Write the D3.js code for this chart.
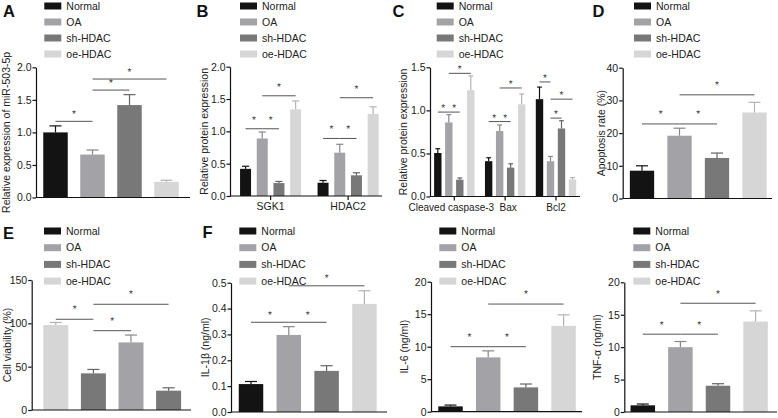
<!DOCTYPE html>
<html><head><meta charset="utf-8">
<script src="https://cdn.jsdelivr.net/npm/d3@7"></script>
<style>body{margin:0;background:#fff}svg{display:block}text{font-family:Arial,"Liberation Sans",sans-serif}</style>
</head><body><svg id="c" width="778" height="418"></svg>
<script>
// ---------------- data ----------------
const groups = ["Normal", "OA", "sh-HDAC", "oe-HDAC"];

const aMeans = [1.00, 0.66, 1.42, 0.24];
const aErrs  = [0.10, 0.07, 0.16, 0.025];
const aSig   = [[0, 1, 1.17], [1, 2, 1.65], [1, 3, 1.82]];
const aTicks = [0, 0.5, 1.0, 1.5, 2.0];

const bCats  = ["SGK1", "HDAC2"];
const bMeans = [[0.42, 0.89, 0.20, 1.34], [0.205, 0.67, 0.32, 1.27]];
const bErrs  = [[0.04, 0.10, 0.025, 0.13], [0.035, 0.13, 0.04, 0.11]];
const bSig   = [[0, 0, 1, 1.04], [0, 1, 2, 1.04], [0, 1, 3, 1.55], [1, 0, 1, 0.89], [1, 1, 2, 0.89], [1, 1, 3, 1.52]];
const bTicks = [0, 0.5, 1.0, 1.5, 2.0];

const cCats  = ["Cleaved caspase-3", "Bax", "Bcl2"];
const cMeans = [[0.505, 0.86, 0.195, 1.235], [0.41, 0.76, 0.335, 1.07], [1.13, 0.41, 0.79, 0.198]];
const cErrs  = [[0.05, 0.09, 0.02, 0.165], [0.04, 0.07, 0.045, 0.12], [0.14, 0.055, 0.09, 0.022]];
const cSig   = [[0, 0, 1, 0.98], [0, 1, 2, 0.98], [0, 1, 3, 1.43], [1, 0, 1, 0.87], [1, 1, 2, 0.87], [1, 1, 3, 1.26], [2, 0, 1, 1.33], [2, 1, 3, 1.13], [2, 1, 2, 0.91]];
const cTicks = [0, 0.5, 1.0, 1.5];

const dMeans = [8.5, 19.2, 12.4, 26.3];
const dErrs  = [1.5, 2.3, 1.5, 3.1];
const dSig   = [[0, 1, 22.8], [1, 2, 22.8], [1, 3, 31.7]];
const dTicks = [0, 10, 20, 30, 40];

const eMeans = [98, 42.3, 78, 22.3];
const eErrs  = [3, 4.5, 8.5, 3.3];
const eSig   = [[0, 1, 104.7], [1, 2, 91.5], [1, 3, 122]];
const eTicks = [0, 50, 100, 150];

const il1Means = [0.108, 0.298, 0.159, 0.418];
const il1Errs  = [0.010, 0.032, 0.020, 0.051];
const il1Sig   = [[0, 1, 0.347], [1, 2, 0.347], [1, 3, 0.488]];
const il1Ticks = [0, 0.1, 0.2, 0.3, 0.4, 0.5];

const il6Means = [0.82, 8.36, 3.74, 13.2];
const il6Errs  = [0.2, 1.0, 0.52, 1.7];
const il6Sig   = [[0, 1, 10.0], [1, 2, 10.0], [1, 3, 16.56]];
const il6Ticks = [0, 5, 10, 15, 20];

const tnfMeans = [1.03, 10.0, 4.05, 13.95];
const tnfErrs  = [0.2, 0.87, 0.31, 1.65];
const tnfSig   = [[0, 1, 12.0], [1, 2, 12.0], [1, 3, 16.77]];
const tnfTicks = [0, 5, 10, 15, 20];

// ---------------- styles ----------------
const color = d3.scaleOrdinal().domain(groups).range(["#131313", "#a3a2a7", "#787878", "#d6d6d6"]);
const eBarColorKeys = ["oe-HDAC", "sh-HDAC", "OA", "sh-HDAC"];
const FS = 10.5;
const svg = d3.select("#c");

function errColor(c) { return c === "#131313" ? c : d3.color(c).darker(0.5).formatHex(); }

function panelLabel(t, x, y) {
  svg.append("text").attr("x", x).attr("y", y).attr("font-size", 16.5).attr("font-weight", "bold").attr("fill", "#111").text(t);
}
function legend(x, y0, dy) {
  const g = svg.append("g");
  groups.forEach((k, i) => {
    const y = y0 + i * dy;
    g.append("rect").attr("x", x).attr("y", y - 3.5).attr("width", 17).attr("height", 7).attr("fill", color(k));
    g.append("text").attr("x", x + 22).attr("y", y).attr("dy", "0.35em").attr("font-size", FS).attr("fill", "#222").text(k);
  });
}
function yAxis(cfg, y, ticks, fmt, title) {
  const g = svg.append("g").attr("transform", `translate(${cfg.x0},0)`)
    .call(d3.axisLeft(y).tickValues(ticks).tickFormat(fmt).tickSize(3.5).tickSizeOuter(0));
  g.selectAll("text").attr("font-size", FS).attr("fill", "#222").style("font-family", "Arial,'Liberation Sans',sans-serif").attr("x", -4.5);
  g.selectAll("path,line").attr("stroke", "#111").attr("stroke-width", 1.2);
  const [yb, yt] = y.range();
  svg.append("text").attr("transform", `translate(${cfg.titleX},${(yb + yt) / 2}) rotate(-90)`)
    .attr("text-anchor", "middle").attr("dy", "0.35em").attr("font-size", FS).attr("fill", "#222").text(title);
  svg.append("line").attr("x1", cfg.x0).attr("x2", cfg.xEnd).attr("y1", yb).attr("y2", yb).attr("stroke", "#111").attr("stroke-width", 1.2);
}
function bar(g, cx, bw, y, m, e, c) {
  g.append("rect").attr("x", cx - bw / 2).attr("y", y(m)).attr("width", bw).attr("height", y(0) - y(m)).attr("fill", c);
  const ec = errColor(c), cap = Math.min(12, bw * 0.65);
  g.append("line").attr("x1", cx).attr("x2", cx).attr("y1", y(m)).attr("y2", y(m + e)).attr("stroke", ec).attr("stroke-width", 1.2);
  g.append("line").attr("x1", cx - cap / 2).attr("x2", cx + cap / 2).attr("y1", y(m + e)).attr("y2", y(m + e)).attr("stroke", ec).attr("stroke-width", 1.2);
}
function sigMark(g, x1, x2, yy, off) {
  g.append("line").attr("x1", x1).attr("x2", x2).attr("y1", yy).attr("y2", yy).attr("stroke", "#555").attr("stroke-width", 1);
  g.append("text").attr("x", (x1 + x2) / 2).attr("y", yy - off).attr("text-anchor", "middle").attr("font-size", 10)
    .attr("fill", "#333").attr("opacity", 0.99).attr("text-rendering", "geometricPrecision").text("*");
}
function bandFor(c0, step, bw, n, dom) {
  const p = 1 - bw / step;
  return d3.scaleBand().domain(dom).range([c0 - step / 2, c0 - step / 2 + n * step]).paddingInner(p).paddingOuter(p / 2);
}
function simplePanel(cfg, means, errs, sig, ticks, fmt, title, colorKeys) {
  const y = d3.scaleLinear().domain([0, ticks[ticks.length - 1]]).range(cfg.y);
  const x = bandFor(cfg.c0, cfg.step, cfg.bw, groups.length, groups);
  const cx = k => x(k) + x.bandwidth() / 2;
  const g = svg.append("g");
  groups.forEach((k, i) => bar(g, cx(k), x.bandwidth(), y, means[i], errs[i], color(colorKeys ? colorKeys[i] : k)));
  yAxis(cfg, y, ticks, fmt, title);
  sig.forEach(([a, b, v]) => sigMark(g, cx(groups[a]), cx(groups[b]), y(v), cfg.starOff));
  legend(cfg.legX, cfg.legY, cfg.legDy);
}
function groupedPanel(cfg, cats, means, errs, sig, ticks, fmt, title) {
  const y = d3.scaleLinear().domain([0, ticks[ticks.length - 1]]).range(cfg.y);
  const xo = d3.scaleBand().domain(cats).range([cfg.c0 - cfg.gstep / 2, cfg.c0 - cfg.gstep / 2 + cats.length * cfg.gstep]);
  const xi = bandFor(0, cfg.step, cfg.bw, groups.length, groups);
  const shift = -1.5 * cfg.step;
  const cx = (c, k) => xo(c) + xo.bandwidth() / 2 + shift + xi(k) + xi.bandwidth() / 2;
  const g = svg.append("g");
  cats.forEach((c, ci) => groups.forEach((k, i) => bar(g, cx(c, k), xi.bandwidth(), y, means[ci][i], errs[ci][i], color(k))));
  yAxis(cfg, y, ticks, fmt, title);
  const ax = svg.append("g").attr("transform", `translate(0,${cfg.y[0]})`)
    .call(d3.axisBottom(xo).tickSize(4).tickSizeOuter(0));
  ax.select(".domain").remove();
  ax.selectAll("line").attr("stroke", "#111").attr("stroke-width", 1.2);
  ax.selectAll("text").attr("font-size", cfg.catFS).attr("fill", "#222").style("font-family", "Arial,'Liberation Sans',sans-serif")
    .attr("y", 7).attr("dx", (d, i) => cfg.catDx[i]);
  sig.forEach(([c, a, b, v]) => sigMark(g, cx(cats[c], groups[a]), cx(cats[c], groups[b]), y(v), cfg.starOff));
  legend(cfg.legX, cfg.legY, cfg.legDy);
}

const f1 = d3.format(".1f"), f0 = d3.format("d");

// A
simplePanel({x0: 36, xEnd: 190, c0: 55.5, step: 37, bw: 24.5, y: [197.5, 67.3], titleX: 6, starOff: 4, legX: 44.3, legY: 6, legDy: 16},
  aMeans, aErrs, aSig, aTicks, f1, "Relative expression of miR-503-5p");
panelLabel("A", 3, 16.5);
// B
groupedPanel({x0: 230, xEnd: 382, c0: 270.6, gstep: 77.5, step: 16.7, bw: 11, y: [196, 66.7], titleX: 204, starOff: 6, legX: 240, legY: 6, legDy: 16, catFS: 10.5, catDx: [0, 0]},
  bCats, bMeans, bErrs, bSig, bTicks, f1, "Relative protein expression");
panelLabel("B", 196.5, 16.5);
// C
groupedPanel({x0: 430, xEnd: 580, c0: 454.3, gstep: 50.85, step: 11, bw: 7.4, y: [196.5, 67.3], titleX: 403, starOff: 1, legX: 436.7, legY: 6, legDy: 16, catFS: 10, catDx: [-3, 3, 0]},
  cCats, cMeans, cErrs, cSig, cTicks, f1, "Relative protein expression");
panelLabel("C", 392.5, 16.5);
// D
simplePanel({x0: 622.7, xEnd: 772, c0: 642, step: 37.5, bw: 24.3, y: [198.5, 67.7], titleX: 601, starOff: 7, legX: 634, legY: 6, legDy: 16},
  dMeans, dErrs, dSig, dTicks, f0, "Apoptosis rate (%)");
panelLabel("D", 592.5, 16.5);
// E
simplePanel({x0: 31.7, xEnd: 191, c0: 55.8, step: 37.6, bw: 25, y: [410, 280], titleX: 7, starOff: 7, legX: 44, legY: 231, legDy: 16.7},
  eMeans, eErrs, eSig, eTicks, f0, "Cell viability (%)", eBarColorKeys);
panelLabel("E", 3, 238.5);
// F
simplePanel({x0: 231, xEnd: 387, c0: 251, step: 37.8, bw: 24.5, y: [412, 282.7], titleX: 205, starOff: 4.5, legX: 239.3, legY: 231, legDy: 16.7},
  il1Means, il1Errs, il1Sig, il1Ticks, f1, "IL-1β (ng/ml)");
panelLabel("F", 202.5, 237.5);
simplePanel({x0: 431, xEnd: 582, c0: 450.5, step: 37.7, bw: 24.5, y: [411.7, 281.7], titleX: 404, starOff: 7, legX: 439.3, legY: 231, legDy: 16.7},
  il6Means, il6Errs, il6Sig, il6Ticks, f0, "IL-6 (ng/ml)");
simplePanel({x0: 624.3, xEnd: 777, c0: 642.8, step: 37.6, bw: 24.5, y: [412, 282.3], titleX: 597, starOff: 6, legX: 633.3, legY: 231, legDy: 16.7},
  tnfMeans, tnfErrs, tnfSig, tnfTicks, f0, "TNF-α (ng/ml)");
</script></body></html>
